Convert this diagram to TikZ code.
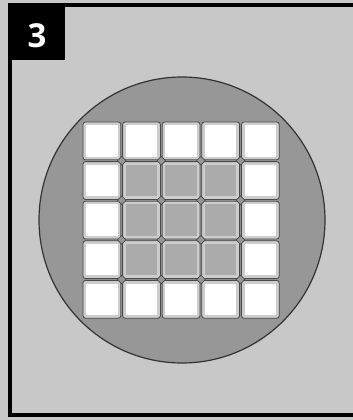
\documentclass[tikz,border=0pt]{standalone}
\usepackage{fontspec}
\setmainfont{Open Sans}
\usetikzlibrary{shapes.geometric}
\definecolor{bgray}{HTML}{C8C8C8}
\definecolor{cgray}{HTML}{979797}
\definecolor{igray}{HTML}{ABABAB}
\definecolor{rimgray}{HTML}{CDCDCD}
\definecolor{edgegray}{HTML}{4A4A4A}
\tikzset{
  cellrim/.style={fill=rimgray, draw=edgegray, line width=0.8pt, rounded corners=2.5pt},
  whitecore/.style={fill=white, draw=none},
  graycore/.style={fill=igray, draw=none},
  joint/.style={diamond, fill=cgray, draw=edgegray, line width=0.7pt, minimum size=9pt, inner sep=0pt},
}
\begin{document}
\begin{tikzpicture}[x=1pt,y=-1pt]
\useasboundingbox (0,0) rectangle (353,420);
\clip (0,0) rectangle (353,420);
% background frame
\fill[bgray] (0,0) rectangle (353,420);
\draw[line width=4pt, black] (10,5) rectangle (356,415);
% disc
\fill[cgray, draw=black!80, line width=1.2pt] (182,220) circle (143);
% grid cells
\foreach \i in {0,...,4}{
  \foreach \j in {0,...,4}{
    \pgfmathsetmacro{\xa}{83+39.6*\i}
    \pgfmathsetmacro{\ya}{122+39.6*\j}
    \draw[cellrim] (\xa,\ya) rectangle ++(37.8,37.8);
    \ifnum\i>0 \ifnum\i<4 \ifnum\j>0 \ifnum\j<4
      \def\core{graycore}
    \else \def\core{whitecore}\fi
    \else \def\core{whitecore}\fi
    \else \def\core{whitecore}\fi
    \else \def\core{whitecore}\fi
    \path[\core] (\xa+3.2,\ya+3.2) rectangle ++(31.4,31.4);
  }
}
% junction markers
\foreach \i in {1,...,4}{
  \foreach \j in {1,...,4}{
    \node[joint] (j\i\j) at (82.1+39.6*\i,121.1+39.6*\j) {};
  }
}
% label tab
\fill[black] (8,3) rectangle (65,60);
\node[text=white, font=\bfseries\fontsize{33}{33}\selectfont, anchor=center] (num) at (37,36) {3};
\end{tikzpicture}
\end{document}
